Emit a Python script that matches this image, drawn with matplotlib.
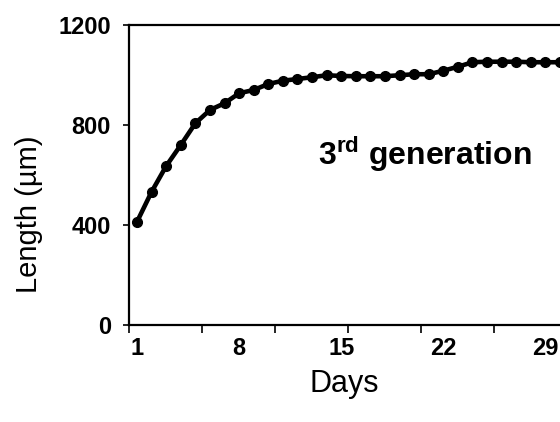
import numpy as np
import matplotlib
matplotlib.use('Agg')
import matplotlib.pyplot as plt

plt.rcParams['font.family'] = ['Liberation Sans', 'DejaVu Sans']
plt.rcParams['mathtext.fontset'] = 'custom'
plt.rcParams['mathtext.bf'] = 'Liberation Sans:bold'
plt.rcParams['mathtext.rm'] = 'Liberation Sans'

# growth curve, 3rd generation
days = list(range(1, 31))
length_um = [413, 533, 636, 720, 807, 860, 887, 927, 940, 964,
             977, 984, 991, 999, 996, 995, 995, 995, 999, 1003,
             1003, 1017, 1033, 1051, 1053, 1053, 1053, 1051, 1051, 1051]
day_ticks = [1, 8, 15, 22, 29]
length_ticks = [0, 400, 800, 1200]

fig = plt.figure(figsize=(5.6, 4.22), dpi=100)
ax = fig.add_axes([0.2304, 0.2299, 0.7696, 0.7109])

ax.plot(days, length_um, color='black', lw=3.3, marker='o', ms=7,
        clip_on=True)

ax.set_xlim(0.45, 30.0)
ax.set_ylim(0, 1200)

ax.set_xticks(day_ticks)
ax.set_xticklabels([str(d) for d in day_ticks], fontsize=17, fontweight='bold')
ax.tick_params(axis='x', which='major', length=0, pad=9)
ax.set_xticks(np.arange(0.45, 30, 5), minor=True)
ax.tick_params(axis='x', which='minor', length=6, width=1.2, direction='out')

ax.set_yticks(length_ticks)
ax.set_yticklabels([str(v) for v in length_ticks], fontsize=17, fontweight='bold')
ax.tick_params(axis='y', length=4, width=1.2, direction='out', pad=9)

for s in ['left', 'bottom', 'top']:
    ax.spines[s].set_linewidth(1.6)
ax.spines['right'].set_visible(False)

ax.set_xlabel('Days', fontsize=22, labelpad=6)
ax.set_ylabel('Length (µm)', fontsize=21)
ax.yaxis.set_label_coords(-0.2, 0.37)

ax.text(13.4, 640, r'3$^{\mathbf{rd}}$ generation', fontsize=23,
        fontweight='bold', va='baseline', ha='left')

fig.savefig('out.png', dpi=100)
